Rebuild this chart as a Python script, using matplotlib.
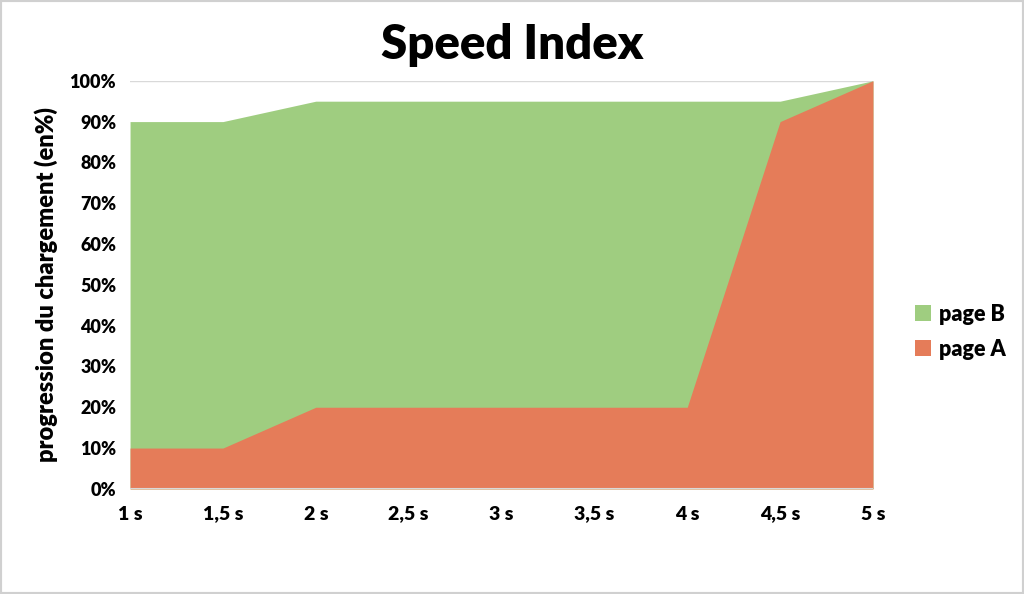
import matplotlib.pyplot as plt
import matplotlib.patches as mpatches
from matplotlib.ticker import FuncFormatter

temps = [1, 1.5, 2, 2.5, 3, 3.5, 4, 4.5, 5]
labels = ["1 s", "1,5 s", "2 s", "2,5 s", "3 s", "3,5 s", "4 s", "4,5 s", "5 s"]
page_b = [90, 90, 95, 95, 95, 95, 95, 95, 100]
page_a = [10, 10, 20, 20, 20, 20, 20, 90, 100]

vert = "#9fcd80"
orange = "#e57c59"

plt.rcParams['font.family'] = ['Lato', 'DejaVu Sans']
plt.rcParams['font.weight'] = 'bold'

fig = plt.figure(figsize=(10.24, 5.94), dpi=100)
fig.patches.append(mpatches.Rectangle((0, 0), 1, 1, transform=fig.transFigure,
                                      fill=False, edgecolor="#d0d0d0", linewidth=3))
ax = fig.add_axes([0.127, 0.177, 0.7255, 0.687])

ax.fill_between(temps, 0, page_b, color=vert, linewidth=0, label="page B")
ax.fill_between(temps, 0, page_a, color=orange, linewidth=0, label="page A")

ax.set_xlim(1, 5)
ax.set_ylim(0, 100)
ax.set_xticks(temps)
ax.set_xticklabels(labels)
ax.set_yticks(range(0, 101, 10))
ax.yaxis.set_major_formatter(FuncFormatter(lambda v, p: f"{int(v)}%"))
ax.axhline(100, color="#d9d9d9", linewidth=1, zorder=0)
ax.axhline(0, color="#d9d9d9", linewidth=1.5, zorder=3)
for s in ax.spines.values():
    s.set_visible(False)
ax.tick_params(length=0, labelsize=13)
ax.tick_params(axis='x', pad=12, labelsize=14)
ax.tick_params(axis='y', pad=10)
for t in ax.get_xticklabels() + ax.get_yticklabels():
    t.set_fontweight('heavy')

ax.set_ylabel("progression du chargement (en%)", fontsize=17, fontweight='heavy', labelpad=8)
fig.text(0.5, 0.925, "Speed Index", ha='center', va='center', fontsize=34, fontweight='heavy')

leg = ax.legend(loc='center left', bbox_to_anchor=(1.03, 0.385), frameon=False,
                fontsize=15.5, handlelength=0.75, handleheight=0.75, handletextpad=0.4,
                labelspacing=0.65)
for t in leg.get_texts():
    t.set_fontweight('heavy')

fig.savefig("out.png", dpi=100)
